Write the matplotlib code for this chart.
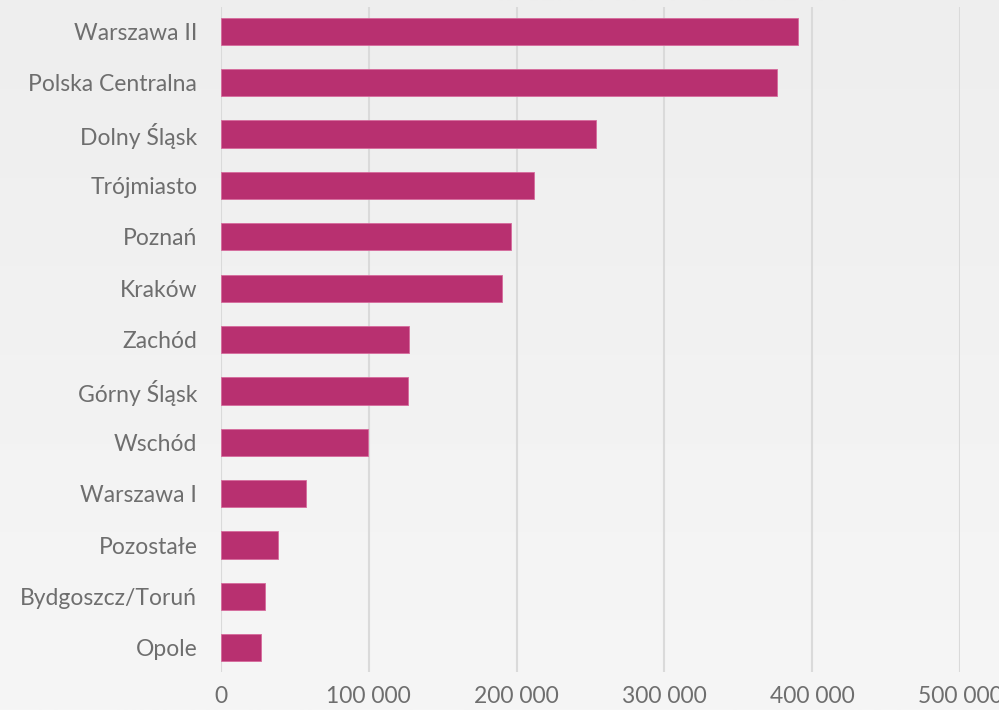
import matplotlib.pyplot as plt
import numpy as np

regiony = ["Warszawa II", "Polska Centralna", "Dolny Śląsk", "Trójmiasto", "Poznań",
           "Kraków", "Zachód", "Górny Śląsk", "Wschód", "Warszawa I", "Pozostałe",
           "Bydgoszcz/Toruń", "Opole"]
wartosci = [390500, 376000, 253500, 212000, 196500, 190000, 127000, 126500,
            99500, 57500, 38500, 30000, 27000]
ticki = [0, 100000, 200000, 300000, 400000, 500000]

plt.rcParams['font.family'] = ['Lato', 'DejaVu Sans']

fig = plt.figure(figsize=(9.99, 7.10), dpi=100)

# tlo z gradientem
bg = fig.add_axes([0, 0, 1, 1], zorder=0)
grad = np.linspace(0, 1, 256).reshape(-1, 1)
bg.imshow(grad, aspect="auto", cmap=plt.matplotlib.colors.LinearSegmentedColormap.from_list(
    "bg", ["#eeeeee", "#f6f6f6"]), extent=[0, 1, 1, 0])
bg.axis("off")

ax = fig.add_axes([0.2212, 0.0535, 0.7398, 0.9366], zorder=1)
ax.patch.set_alpha(0)
y = np.arange(len(regiony))
ax.barh(y, wartosci, height=0.53, color="#b83070", edgecolor="#d66a9c", linewidth=0.6, zorder=3)
ax.set_ylim(len(regiony) - 1 + 0.47, -0.47)
ax.set_xlim(0, 500000)
ax.set_xticks(ticki)
ax.set_xticklabels([f"{t:,}".replace(",", " ") for t in ticki])
ax.set_yticks(y)
ax.set_yticklabels(regiony)
ax.grid(axis="x", color="#dadada", linewidth=1.5, zorder=0)
for s in ax.spines.values():
    s.set_visible(False)
ax.tick_params(axis="both", length=0, labelsize=16.5, labelcolor="#6e6e6e")
ax.tick_params(axis="y", pad=17)
ax.tick_params(axis="x", pad=10)

plt.savefig("out.png")
